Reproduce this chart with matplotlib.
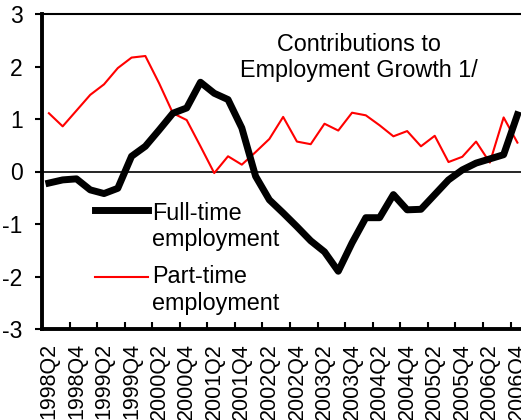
import numpy as np
import matplotlib
matplotlib.use("Agg")
import matplotlib.pyplot as plt

plt.rcParams['font.family'] = ['Liberation Sans', 'DejaVu Sans']
plt.rcParams['axes.unicode_minus'] = False

# Quarterly data, 1998Q2 - 2006Q4
full_time = [-0.22, -0.16, -0.14, -0.35, -0.42, -0.32, 0.29, 0.48, 0.79, 1.11,
             1.21, 1.70, 1.49, 1.37, 0.83, -0.09, -0.54, -0.79, -1.05, -1.32,
             -1.53, -1.90, -1.36, -0.88, -0.88, -0.44, -0.73, -0.72, -0.44, -0.16,
             0.03, 0.16, 0.24, 0.32, 1.08]
part_time = [1.11, 0.86, 1.16, 1.46, 1.66, 1.97, 2.17, 2.20, 1.68, 1.11,
             0.98, 0.48, -0.03, 0.29, 0.13, 0.37, 0.62, 1.04, 0.57, 0.52,
             0.91, 0.78, 1.12, 1.07, 0.88, 0.67, 0.77, 0.48, 0.68, 0.18,
             0.28, 0.57, 0.17, 1.03, 0.55]
tick_labels = ["1998Q2", "1998Q4", "1999Q2", "1999Q4", "2000Q2", "2000Q4",
               "2001Q2", "2001Q4", "2002Q2", "2002Q4", "2003Q2", "2003Q4",
               "2004Q2", "2004Q4", "2005Q2", "2005Q4", "2006Q2", "2006Q4"]

n = len(full_time)
x = np.arange(n)

fig = plt.figure(figsize=(5.21, 4.20), dpi=100)
ax = fig.add_axes([42 / 521, 91 / 420, 482.3 / 521, 315 / 420])

ax.axhline(0, color="black", lw=1.2, zorder=1)
ax.plot(x, part_time, color="red", lw=1.5, zorder=2)
ax.plot(x, full_time, color="black", lw=5, zorder=3)

ax.set_xlim(-0.5, n - 0.5)
ax.set_ylim(-3, 3)
ax.set_yticks(range(-3, 4))
ax.tick_params(axis="y", direction="out", length=5, width=1.5, labelsize=16.5, pad=9)

# labels on every other quarter, tick marks between the pairs
ax.set_xticks(x[::2])
ax.set_xticklabels(tick_labels, rotation=90, fontsize=15.5)
ax.tick_params(axis="x", which="major", length=0, pad=10)
ax.set_xticks(np.arange(-0.5, n, 2), minor=True)
ax.tick_params(axis="x", which="minor", direction="in", length=5, width=1.5)

for side in ["left", "bottom"]:
    ax.spines[side].set_linewidth(2.8)
for side in ["top", "right"]:
    ax.spines[side].set_linewidth(1.5)

ax.text(0.657, 0.862, "Contributions to\nEmployment Growth 1/", transform=ax.transAxes,
        ha="center", va="center", fontsize=16.8)

# hand-placed legend
ax.plot([0.110, 0.220], [0.378, 0.378], color="black", lw=5, transform=ax.transAxes)
ax.text(0.229, 0.325, "Full-time\nemployment", transform=ax.transAxes,
        ha="left", va="center", fontsize=16.8)
ax.plot([0.110, 0.220], [0.165, 0.165], color="red", lw=1.5, transform=ax.transAxes)
ax.text(0.229, 0.124, "Part-time\nemployment", transform=ax.transAxes,
        ha="left", va="center", fontsize=16.8)

plt.savefig("out.png", dpi=100)
